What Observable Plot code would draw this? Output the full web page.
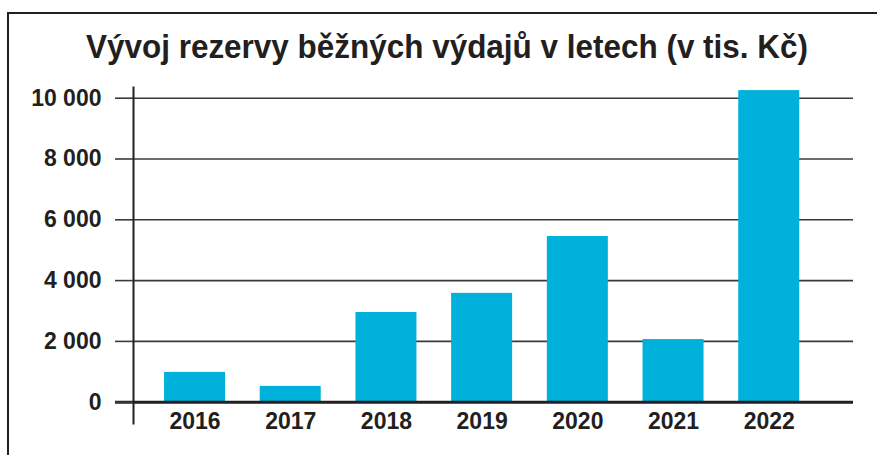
<!DOCTYPE html>
<html>
<head>
<meta charset="utf-8">
<script src="https://cdn.jsdelivr.net/npm/d3@7"></script>
<script src="https://cdn.jsdelivr.net/npm/@observablehq/plot@0.6"></script>
<style>
  html, body { margin: 0; padding: 0; background: #fff; overflow: hidden; width: 877px; height: 455px; }
  #border { position: absolute; left: 7px; top: 12px; width: 1000px; height: 1000px;
            border-left: 2px solid #231f20; border-top: 2px solid #231f20; z-index: 2; pointer-events: none; }
  #title { position: absolute; left: 86px; top: 29px; margin: 0; white-space: nowrap; display: inline-block;
           font-family: "Liberation Sans", Arial, sans-serif; font-weight: bold; font-size: 34px; line-height: 34px;
           color: #231f20; transform-origin: 0 0; }
  #chart { position: absolute; left: 0; top: 70px; }
</style>
</head>
<body>
<div id="border"></div>
<div id="title">Vývoj rezervy běžných výdajů v letech (v tis. Kč)</div>
<div id="chart"></div>
<script>
const years = ["2016", "2017", "2018", "2019", "2020", "2021", "2022"];
const values = [980, 520, 2950, 3580, 5450, 2060, 10250];
const yTicks = [0, 2000, 4000, 6000, 8000, 10000];

const data = years.map((year, i) => ({year, value: values[i]}));
const fmt = d => d3.format(",")(d).replace(/,/g, " ");

const chart = Plot.plot({
  width: 877,
  height: 385,
  marginLeft: 133,
  marginRight: 24,
  marginTop: 17,
  marginBottom: 32,
  x: {domain: years, paddingInner: 0.3626, paddingOuter: 0.443, align: 0.366, round: false, axis: null, label: null},
  y: {domain: [0, 10000], range: [331.7, 27.7], axis: null, label: null},
  style: {background: "transparent", color: "#231f20", fontFamily: "'Liberation Sans', Arial, sans-serif"},
  marks: [
    Plot.gridY(yTicks, {stroke: "#3a3a3a", strokeOpacity: 1, strokeWidth: 1.6}),
    Plot.barY(data, {x: "year", y: "value", fill: "#00b1db"}),
    Plot.ruleY([0], {stroke: "#231f20", strokeWidth: 3, insetLeft: -18}),
    Plot.frame({anchor: "left", stroke: "#231f20", strokeWidth: 2}),
    Plot.axisY(yTicks, {tickSize: 18, tickPadding: 14, tickFormat: fmt, fontSize: 23, fontWeight: "bold",
                        stroke: "#3a3a3a", strokeWidth: 1.6, fill: "#231f20", label: null}),
    Plot.axisX({tickSize: 0, tickPadding: 0, dy: -11, fontSize: 23, fontWeight: "bold", fill: "#231f20", label: null})
  ]
});
document.getElementById("chart").appendChild(chart);

const t = document.getElementById("title");
const w = t.getBoundingClientRect().width;
t.style.transform = `scaleX(${722 / w})`;
</script>
</body>
</html>
